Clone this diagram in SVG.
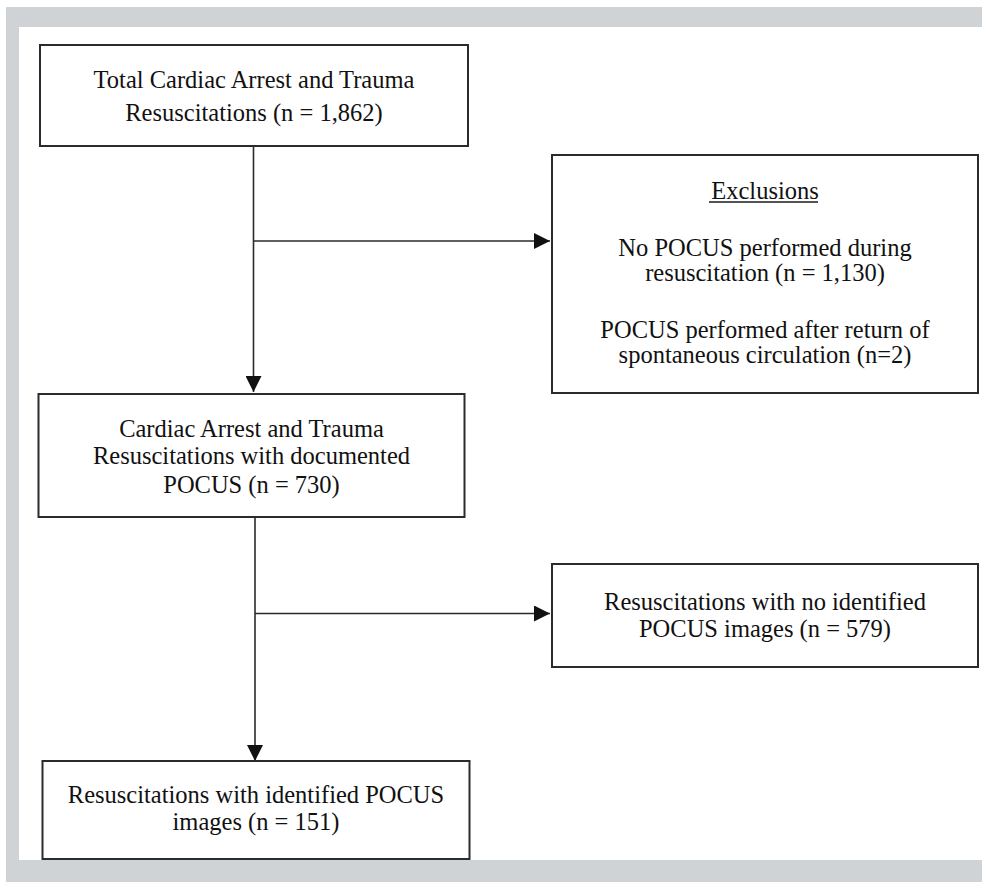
<svg xmlns="http://www.w3.org/2000/svg" width="982" height="882" viewBox="0 0 982 882">
  <defs>
    <marker id="arrow" markerUnits="userSpaceOnUse" markerWidth="16" markerHeight="16" refX="16" refY="8" orient="auto">
      <path d="M0,0 L16,8 L0,16 z" fill="#111"/>
    </marker>
    <style>
      .frame { fill: #cfd3d6; }
      .box { fill: #ffffff; stroke: #2b2b2b; stroke-width: 2; }
      .txt { font-family: "Liberation Serif", "Times New Roman", serif; font-size: 24.5px; fill: #111111; text-anchor: middle; }
      .conn { stroke: #2b2b2b; stroke-width: 1.6; fill: none; }
    </style>
  </defs>
  <rect x="0" y="0" width="982" height="882" fill="#ffffff"/>
  <g id="frame">
    <rect class="frame" x="6" y="7" width="976" height="20"/>
    <rect class="frame" x="6" y="7" width="13" height="875"/>
    <rect class="frame" x="6" y="860" width="976" height="22"/>
  </g>

  <g id="connectors">
    <line class="conn" x1="253.5" y1="146" x2="253.5" y2="392" marker-end="url(#arrow)"/>
    <line class="conn" x1="253.5" y1="241" x2="550" y2="241" marker-end="url(#arrow)"/>
    <line class="conn" x1="255" y1="517" x2="255" y2="761" marker-end="url(#arrow)"/>
    <line class="conn" x1="255" y1="613.5" x2="550" y2="613.5" marker-end="url(#arrow)"/>
  </g>

  <g id="node-total">
    <rect class="box" x="40" y="45" width="428" height="101"/>
    <text class="txt" x="254" y="88">Total Cardiac Arrest and Trauma</text>
    <text class="txt" x="254" y="121">Resuscitations (n = 1,862)</text>
  </g>

  <g id="node-exclusions">
    <rect class="box" x="552" y="155" width="426" height="238"/>
    <text class="txt" x="765" y="199">Exclusions</text>
    <line x1="709" y1="202" x2="818" y2="202" stroke="#1a1a1a" stroke-width="1.4"/>
    <text class="txt" x="765" y="256">No POCUS performed during</text>
    <text class="txt" x="765" y="281">resuscitation (n = 1,130)</text>
    <text class="txt" x="765" y="338">POCUS performed after return of</text>
    <text class="txt" x="765" y="363">spontaneous circulation (n=2)</text>
  </g>

  <g id="node-documented">
    <rect class="box" x="38.5" y="394" width="426" height="123"/>
    <text class="txt" x="251.5" y="437">Cardiac Arrest and Trauma</text>
    <text class="txt" x="251.5" y="464">Resuscitations with documented</text>
    <text class="txt" x="251.5" y="493">POCUS (n = 730)</text>
  </g>

  <g id="node-no-images">
    <rect class="box" x="552" y="564" width="426" height="103"/>
    <text class="txt" x="765" y="610">Resuscitations with no identified</text>
    <text class="txt" x="765" y="637">POCUS images (n = 579)</text>
  </g>

  <g id="node-identified">
    <rect class="box" x="42.5" y="761" width="427" height="98"/>
    <text class="txt" x="256" y="803">Resuscitations with identified POCUS</text>
    <text class="txt" x="256" y="830">images (n = 151)</text>
  </g>
</svg>
